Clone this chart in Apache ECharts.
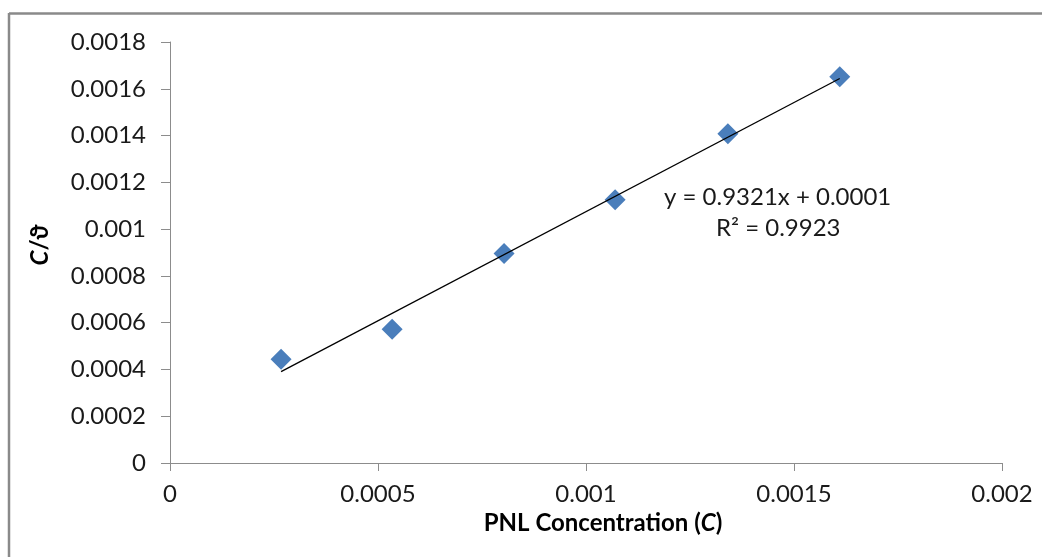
<!DOCTYPE html>
<html>
<head>
<meta charset="utf-8">
<script src="https://cdn.jsdelivr.net/npm/echarts@6/dist/echarts.min.js"></script>
<style>html,body{margin:0;padding:0;background:#fff;}#c{width:1042px;height:557px;}</style>
</head>
<body>
<div id="c"></div>
<script>
// Data
var concentration = [0.000267, 0.000534, 0.000803, 0.00107, 0.001341, 0.00161];
var cOverTheta = [0.000444, 0.000572, 0.000896, 0.001126, 0.001408, 0.001651];
var trendX = [0.000267, 0.00161];
var trendY = [0.000391, 0.001644];
var xTicks = ['0', '0.0005', '0.001', '0.0015', '0.002'];
var yTicks = ['0', '0.0002', '0.0004', '0.0006', '0.0008', '0.001', '0.0012', '0.0014', '0.0016', '0.0018'];
var equationText = 'y = 0.9321x + 0.0001';
var r2Text = 'R² = 0.9923';
var xTitle = 'PNL Concentration (';
var xTitleItalic = 'C';
var xTitleEnd = ')';

var FONT = 'Lato';
var FS = 24;
var chart = echarts.init(document.getElementById('c'), null, {renderer: 'canvas'});
var pts = concentration.map(function (x, i) { return [x, cOverTheta[i]]; });
var trend = trendX.map(function (x, i) { return [x, trendY[i]]; });

function fmt(ticks, min, step) {
  return function (v) {
    var idx = Math.round((v - min) / step);
    return ticks[idx] !== undefined ? ticks[idx] : '';
  };
}

chart.setOption({
  animation: false,
  backgroundColor: '#fff',
  grid: {left: 170, right: 40, top: 42, bottom: 94, containLabel: false},
  xAxis: {
    type: 'value', min: 0, max: 0.002, interval: 0.0005,
    axisLine: {show: true, lineStyle: {color: '#8c8c8c', width: 1}},
    axisTick: {show: true, length: 8, lineStyle: {color: '#8c8c8c'}},
    splitLine: {show: false},
    axisLabel: {formatter: fmt(xTicks, 0, 0.0005), color: '#1a1a1a', fontFamily: FONT, fontSize: FS, margin: 19}
  },
  yAxis: {
    type: 'value', min: 0, max: 0.0018, interval: 0.0002,
    axisLine: {show: true, lineStyle: {color: '#8c8c8c', width: 1}},
    axisTick: {show: true, length: 9, lineStyle: {color: '#8c8c8c'}},
    splitLine: {show: false},
    axisLabel: {formatter: fmt(yTicks, 0, 0.0002), color: '#1a1a1a', fontFamily: FONT, fontSize: FS, margin: 24}
  },
  series: [
    {
      type: 'line', data: trend, symbol: 'none', z: 3,
      lineStyle: {color: '#000', width: 1.3}
    },
    {
      type: 'scatter', data: pts, symbol: 'diamond', symbolSize: [21, 21], z: 2,
      itemStyle: {color: '#4a7ebb', opacity: 1}
    }
  ],
  graphic: [
    {type: 'line', shape: {x1: 9, y1: 13.5, x2: 1042, y2: 13.5}, style: {stroke: '#8a8a8a', lineWidth: 2.5}},
    {type: 'line', shape: {x1: 9, y1: 13, x2: 9, y2: 557}, style: {stroke: '#8a8a8a', lineWidth: 2.5}},
    {
      type: 'text', left: 664, top: 185,
      style: {text: equationText, font: FS + 'px ' + FONT, fill: '#1a1a1a'}
    },
    {
      type: 'text', left: 716, top: 216,
      style: {text: r2Text, font: FS + 'px ' + FONT, fill: '#1a1a1a'}
    },
    {
      type: 'text', x: 603, y: 523,
      style: {
        text: '{b|' + xTitle + '}{i|' + xTitleItalic + '}{b|' + xTitleEnd + '}',
        align: 'center', verticalAlign: 'middle',
        rich: {
          b: {fontFamily: FONT, fontWeight: 'bold', fontSize: FS, fill: '#000'},
          i: {fontFamily: FONT, fontWeight: 'bold', fontStyle: 'italic', fontSize: FS, fill: '#000'}
        }
      }
    },
    {
      type: 'text', x: 40, y: 245, rotation: Math.PI / 2,
      style: {
        text: '{i|C}{b|/ϑ}',
        align: 'center', verticalAlign: 'middle',
        rich: {
          b: {fontFamily: FONT, fontWeight: 'bold', fontSize: FS, fill: '#000'},
          i: {fontFamily: FONT, fontWeight: 'bold', fontStyle: 'italic', fontSize: FS, fill: '#000'}
        }
      }
    }
  ]
});
</script>
</body>
</html>
